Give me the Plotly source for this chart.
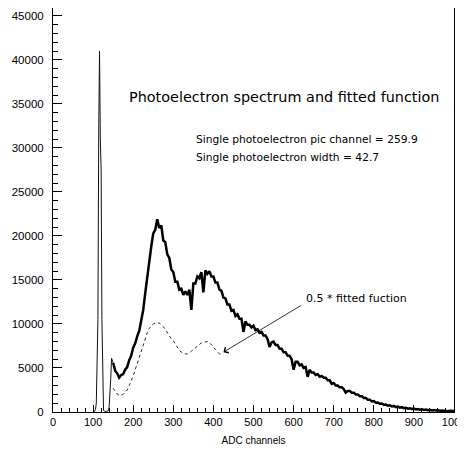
import plotly.graph_objects as go

# pedestal region, 2-channel bins
ped_channels = list(range(100, 150, 2))
ped_counts = [0, 0, 100, 300, 1000, 5900, 10500, 31700, 41000, 31000,
              27500, 10500, 1200, 200, 100, 50, 50, 80, 100, 150,
              600, 1800, 3800, 6100, 5900]

# photoelectron spectrum, 5-channel bins from 150 to 1000
spectrum_channels = list(range(150, 1001, 5))
spectrum_counts = [5600, 4700, 4400, 3900, 4200, 4300, 4800, 5100, 5900, 6400,
                   7300, 7800, 8600, 9200, 10400, 11600, 13500, 15300, 17600, 18800,
                   20300, 20700, 21900, 20900, 21200, 19500, 19300, 17900, 17500, 16200,
                   15900, 14800, 14800, 13900, 14000, 13300, 13700, 13300, 13900, 11600,
                   14600, 14600, 15400, 15200, 15900, 13600, 16100, 15700, 16000, 15400,
                   15400, 14700, 14700, 13900, 13800, 13000, 12900, 12200, 12200, 11500,
                   11600, 10900, 11100, 10600, 10600, 9100, 10300, 9900, 9900, 9600,
                   9800, 9300, 9400, 9000, 9100, 8700, 8700, 8300, 7400, 7900,
                   8000, 7600, 7600, 7200, 7200, 6800, 6800, 6400, 6400, 6000,
                   4800, 5700, 5700, 5300, 5400, 5000, 5100, 4000, 4800, 4500,
                   4500, 4200, 4300, 4000, 4100, 3900, 3900, 3600, 3600, 3200,
                   3300, 3000, 3000, 2800, 2800, 2600, 2200, 2400, 2400, 2200,
                   2200, 2000, 2000, 1800, 1800, 1600, 1600, 1400, 1400, 1200,
                   1250, 1050, 1080, 930, 950, 820, 840, 720, 760, 640,
                   690, 560, 610, 500, 550, 440, 490, 380, 430, 340,
                   390, 300, 340, 270, 300, 240, 280, 200, 250, 180,
                   220, 160, 200, 140, 170, 120, 150, 100, 130, 90,
                   110]

# 0.5 * fitted function (dashed)
fit_channels = list(range(150, 421, 5))
fit_values = [2700, 2300, 2050, 1900, 1900, 2000, 2200, 2500, 3000, 3500,
              4100, 4800, 5500, 6200, 7000, 7800, 8500, 9000, 9500, 9800,
              10000, 10100, 10150, 10100, 9950, 9700, 9400, 9000, 8600, 8300,
              8100, 7700, 7300, 7000, 6800, 6650, 6600, 6600, 6700, 6900,
              7100, 7300, 7500, 7700, 7850, 7950, 7980, 8000, 7900, 7700,
              7400, 7100, 6800, 6600, 6500]

x_ticks = [0, 100, 200, 300, 400, 500, 600, 700, 800, 900, 1000]
y_ticks = [0, 5000, 10000, 15000, 20000, 25000, 30000, 35000, 40000, 45000]

title_text = 'Photoelectron spectrum and fitted function'
stats_lines = ['Single photoelectron pic channel = 259.9',
               'Single photoelectron width = 42.7']
fit_label = '0.5 * fitted fuction'

FONT = 'Liberation Sans, Arial, sans-serif'
TEXT_FONT = 'DejaVu Sans, sans-serif'

fig = go.Figure()
# thin pedestal part, joined to the first spectrum bin
fig.add_trace(go.Scatter(x=ped_channels + spectrum_channels[:1],
                         y=ped_counts + spectrum_counts[:1],
                         mode='lines', line=dict(color='#111', width=1),
                         hoverinfo='skip'))
fig.add_trace(go.Scatter(x=spectrum_channels, y=spectrum_counts,
                         mode='lines', line=dict(color='black', width=2.5),
                         hoverinfo='skip'))
fig.add_trace(go.Scatter(x=fit_channels, y=fit_values, mode='lines',
                         line=dict(color='#222', width=1, dash='3px,3px'),
                         hoverinfo='skip'))

# the page body adds an 8px margin, so the figure is 8px smaller on each side
fig.update_layout(width=457, height=446,
                  margin=dict(l=45, r=11, t=0, b=42),
                  showlegend=False,
                  paper_bgcolor='white', plot_bgcolor='white',
                  font=dict(family=FONT, color='black', size=11))

fig.update_xaxes(range=[0, 1000], tickvals=x_ticks, ticktext=[str(v) for v in x_ticks],
                 ticks='inside', ticklen=7, tickcolor='black', tickwidth=1,
                 showline=True, linecolor='black', linewidth=1, mirror=True,
                 showgrid=False, zeroline=False, automargin=False,
                 ticklabeloverflow='allow',
                 minor=dict(ticks='inside', ticklen=4, dtick=20, tickcolor='black', showgrid=False),
                 tickfont=dict(size=11),
                 title=dict(text='ADC channels', font=dict(size=10), standoff=9))

fig.update_yaxes(range=[0, 45900], tickvals=y_ticks, ticktext=[str(v) for v in y_ticks],
                 ticks='inside', ticklen=9, tickcolor='black', tickwidth=1,
                 showline=True, linecolor='black', linewidth=1, mirror=True,
                 showgrid=False, zeroline=False, automargin=False,
                 ticklabeloverflow='allow',
                 minor=dict(ticks='inside', ticklen=5, dtick=1000, tickcolor='black', showgrid=False),
                 tickfont=dict(size=11.5), ticklabelstandoff=6)

# annotation positions in paper fractions of the plot area
fig.add_annotation(xref='paper', yref='paper', x=0.185, y=0.78, xanchor='left', yanchor='middle',
                   text=title_text, showarrow=False, font=dict(family=TEXT_FONT, size=14.4))
fig.add_annotation(xref='paper', yref='paper', x=0.352, y=0.675, xanchor='left', yanchor='middle',
                   text=stats_lines[0], showarrow=False, font=dict(family=TEXT_FONT, size=10.7))
fig.add_annotation(xref='paper', yref='paper', x=0.352, y=0.63, xanchor='left', yanchor='middle',
                   text=stats_lines[1], showarrow=False, font=dict(family=TEXT_FONT, size=10.7))
fig.add_annotation(xref='paper', yref='paper', x=0.627, y=0.28, xanchor='left', yanchor='middle',
                   text=fit_label, showarrow=False, font=dict(family=TEXT_FONT, size=11))
fig.add_annotation(x=425, y=6800, ax=622, ay=12200, axref='x', ayref='y',
                   text='', showarrow=True, arrowhead=4, arrowsize=1.6,
                   arrowwidth=0.8, arrowcolor='black')

fig.write_html('out.html')
